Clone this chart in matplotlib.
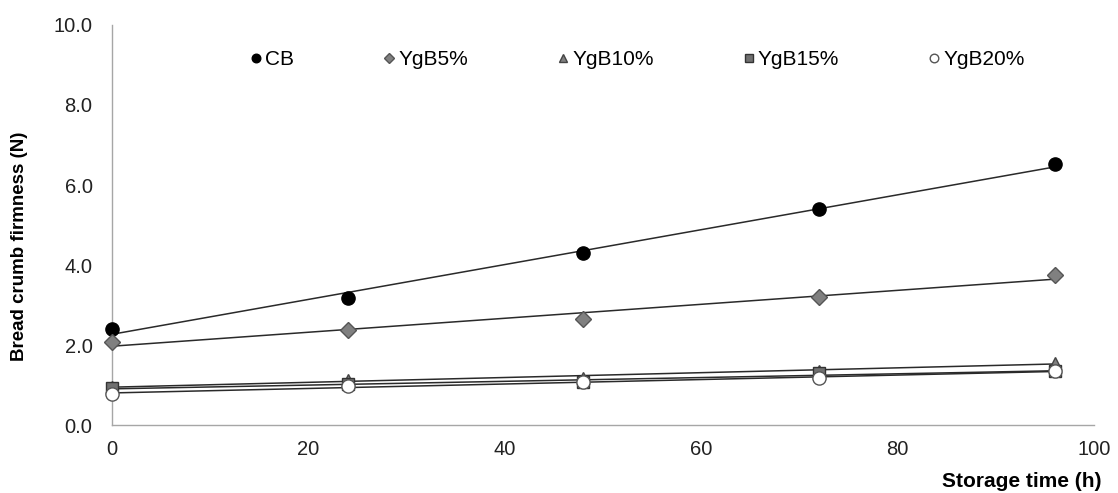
import numpy as np
import matplotlib.pyplot as plt

plt.rcParams["font.family"] = ["Liberation Sans", "DejaVu Sans"]

hours = [0, 24, 48, 72, 96]
cb = [2.40, 3.18, 4.30, 5.40, 6.52]
ygb5 = [2.07, 2.37, 2.65, 3.20, 3.75]
ygb10 = [0.95, 1.13, 1.18, 1.36, 1.56]
ygb15 = [0.92, 1.02, 1.07, 1.29, 1.35]
ygb20 = [0.78, 0.97, 1.08, 1.17, 1.35]

series = [
    ("CB", cb, dict(marker="o", ms=9.5, mfc="black", mec="black")),
    ("YgB5%", ygb5, dict(marker="D", ms=8, mfc="#808080", mec="#555555")),
    ("YgB10%", ygb10, dict(marker="^", ms=8.5, mfc="#808080", mec="#444444")),
    ("YgB15%", ygb15, dict(marker="s", ms=8.5, mfc="#707070", mec="#333333")),
    ("YgB20%", ygb20, dict(marker="o", ms=9.5, mfc="white", mec="#555555")),
]

fig = plt.figure(figsize=(11.18, 4.93), dpi=100)
ax = fig.add_axes([0.1002, 0.1379, 0.8784, 0.8114])

x = np.array(hours)
for name, vals, style in series:
    # linear trend line through each series
    slope, icpt = np.polyfit(x, vals, 1)
    ax.plot(x, slope * x + icpt, color="#2a2a2a", lw=1.1, zorder=2)
    ax.plot(x, vals, ls="none", label=name, zorder=3, mew=1.0,
            clip_on=False, **style)

ax.set_xlim(0, 100)
ax.set_ylim(0, 10)
ax.set_xticks([0, 20, 40, 60, 80, 100])
ax.set_yticks([0, 2, 4, 6, 8, 10])
ax.set_yticklabels([f"{v:.1f}" for v in [0, 2, 4, 6, 8, 10]])
ax.tick_params(length=0, labelsize=14.5, colors="#222222")
ax.tick_params(axis="y", pad=14)
ax.tick_params(axis="x", pad=11)
for s in ["top", "right"]:
    ax.spines[s].set_visible(False)
for s in ["left", "bottom"]:
    ax.spines[s].set_color("#a6a6a6")
    ax.spines[s].set_linewidth(1.0)

fig.text(20 / 1118, 0.5, "Bread crumb firmness (N)", fontsize=13.5,
         fontweight="bold", rotation=90, ha="center", va="center")
fig.text(0.985, 0.004, "Storage time (h)", fontsize=15, fontweight="bold",
         ha="right", va="bottom")

ax.legend(loc="center left", bbox_to_anchor=(0.122, 0.9125), ncol=5,
          frameon=False, fontsize=15, markerscale=0.65, handlelength=0.5,
          handletextpad=0.2, columnspacing=4.3)

fig.savefig("out.png", dpi=100)
